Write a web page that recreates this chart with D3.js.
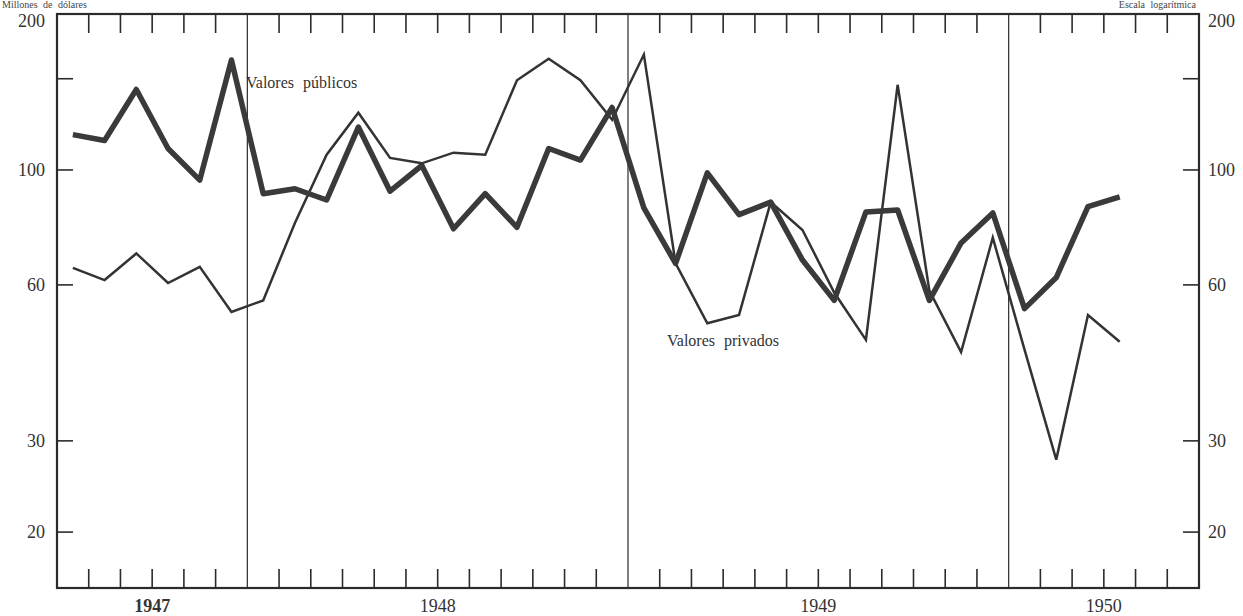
<!DOCTYPE html>
<html><head><meta charset="utf-8">
<script src="https://cdn.jsdelivr.net/npm/d3@7"></script>
<style>html,body{margin:0;padding:0;background:#fff;}svg{display:block;}</style>
</head><body>
<svg id="c" width="1243" height="616"></svg>
<script>
// axis months: Jul 1947 .. Jun 1950
const months = [];
for (let y = 1947, m = 7; !(y === 1950 && m === 7); ) {
  months.push(y + "-" + String(m).padStart(2, "0"));
  m++; if (m > 12) { m = 1; y++; }
}
// data months: Jul 1947 .. Apr 1950
const dataMonths = months.slice(0, 34);
const publicos = [117,114,143,110,95.6,163,90,92,87.5,121,91,102,
  77,90,77.5,110,104.5,132,84.5,66,98.7,82,86.7,67,
  56,83,83.7,56,72.3,82.6,54,62,85,88.7];
const privados = [64.7,61.3,69,60.5,65,53.2,56,79,107,129,105.5,103,
  108,107,149,164,149,125,167,66,50.6,52.5,86.7,76.6,
  58,47,146,58.5,44.5,74,45,27.6,52.5,46.6];
const yearLabels = ["1947","1948","1949","1950"];
const yearSpans = [["1947-07","1947-12"],["1948-01","1948-12"],["1949-01","1949-12"],["1950-01","1950-06"]];
const leftTicks = [200,150,100,60,30,20];
const leftLabels = [200,100,60,30,20];
const rightTicks = [150,100,60,30,20];
const rightLabels = [200,100,60,30,20];

const svg = d3.select("#c");
const L = 57, R = 1199, T = 14, B = 588;
const x = d3.scaleBand().domain(months).range([L, R]).padding(0);
const y = d3.scaleLog().domain([15.6, 200]).range([B, T]);
const cx = m => x(m) + x.bandwidth() / 2;
const ink = "#2b2b2b";
const font = "'Liberation Serif', 'DejaVu Serif', serif";

// header texts
svg.append("text").attr("x", 2).attr("y", 8).attr("font-family", font).attr("font-size", 10)
  .attr("fill", "#444").attr("word-spacing", 3).text("Millones de dólares");
svg.append("text").attr("x", 1196).attr("y", 8).attr("text-anchor", "end").attr("font-family", font)
  .attr("font-size", 10).attr("fill", "#444").attr("word-spacing", 3).text("Escala logarítmica");

// year dividers
const dividers = ["1948-01","1949-01","1950-01"];
svg.append("g").selectAll("line").data(dividers).join("line")
  .attr("x1", d => x(d)).attr("x2", d => x(d)).attr("y1", T).attr("y2", B)
  .attr("stroke", ink).attr("stroke-width", 1.2);

// month ticks top & bottom (month boundaries except year starts)
const tickMonths = months.slice(1).filter(m => !m.endsWith("-01"));
const tg = svg.append("g").attr("stroke", ink).attr("stroke-width", 1.6);
tg.selectAll(".tt").data(tickMonths).join("line").attr("class","tt")
  .attr("x1", d => x(d)).attr("x2", d => x(d)).attr("y1", T).attr("y2", T + 19);
tg.selectAll(".bt").data(tickMonths).join("line").attr("class","bt")
  .attr("x1", d => x(d)).attr("x2", d => x(d)).attr("y1", B).attr("y2", B - 19);
// y ticks
tg.selectAll(".lt").data(leftTicks).join("line").attr("class","lt")
  .attr("x1", L).attr("x2", L + 16).attr("y1", d => y(d)).attr("y2", d => y(d));
tg.selectAll(".rt").data(rightTicks).join("line").attr("class","rt")
  .attr("x1", R).attr("x2", R - 16).attr("y1", d => y(d)).attr("y2", d => y(d));

// frame
svg.append("rect").attr("x", L).attr("y", T).attr("width", R - L).attr("height", B - T)
  .attr("fill", "none").attr("stroke", ink).attr("stroke-width", 2.2);

// y labels
const off = d => d === 200 ? 13 : 6;
svg.append("g").selectAll("text").data(leftLabels).join("text")
  .attr("x", 45).attr("y", d => y(d) + off(d)).attr("text-anchor", "end")
  .attr("font-family", font).attr("font-size", 18).attr("fill", "#333").text(d => d);
svg.append("g").selectAll("text").data(rightLabels).join("text")
  .attr("x", 1208).attr("y", d => y(d) + off(d)).attr("text-anchor", "start")
  .attr("font-family", font).attr("font-size", 18).attr("fill", "#333").text(d => d);

// year labels
svg.append("g").selectAll("text").data(yearLabels).join("text")
  .attr("x", (d, i) => (x(yearSpans[i][0]) + x(yearSpans[i][1]) + x.bandwidth()) / 2)
  .attr("y", 612).attr("text-anchor", "middle").attr("font-family", font)
  .attr("font-size", 18).attr("font-weight", (d, i) => i === 0 ? "bold" : "normal")
  .attr("fill", "#333").text(d => d);

// lines
const line = d3.line().x(d => cx(d[0])).y(d => y(d[1]));
svg.append("path").datum(dataMonths.map((m, i) => [m, privados[i]]))
  .attr("d", line).attr("fill", "none").attr("stroke", "#333").attr("stroke-width", 2.5)
  .attr("stroke-linejoin", "miter");
svg.append("path").datum(dataMonths.map((m, i) => [m, publicos[i]]))
  .attr("d", line).attr("fill", "none").attr("stroke", "#3a3a3a").attr("stroke-width", 5.5)
  .attr("stroke-linejoin", "round");

// series labels
svg.append("text").attr("x", 246).attr("y", 88).attr("font-family", font).attr("font-size", 16)
  .attr("fill", "#333").attr("word-spacing", 5).text("Valores públicos");
svg.append("text").attr("x", 667).attr("y", 346).attr("font-family", font).attr("font-size", 16)
  .attr("fill", "#333").attr("word-spacing", 5).text("Valores privados");
</script>
</body></html>
